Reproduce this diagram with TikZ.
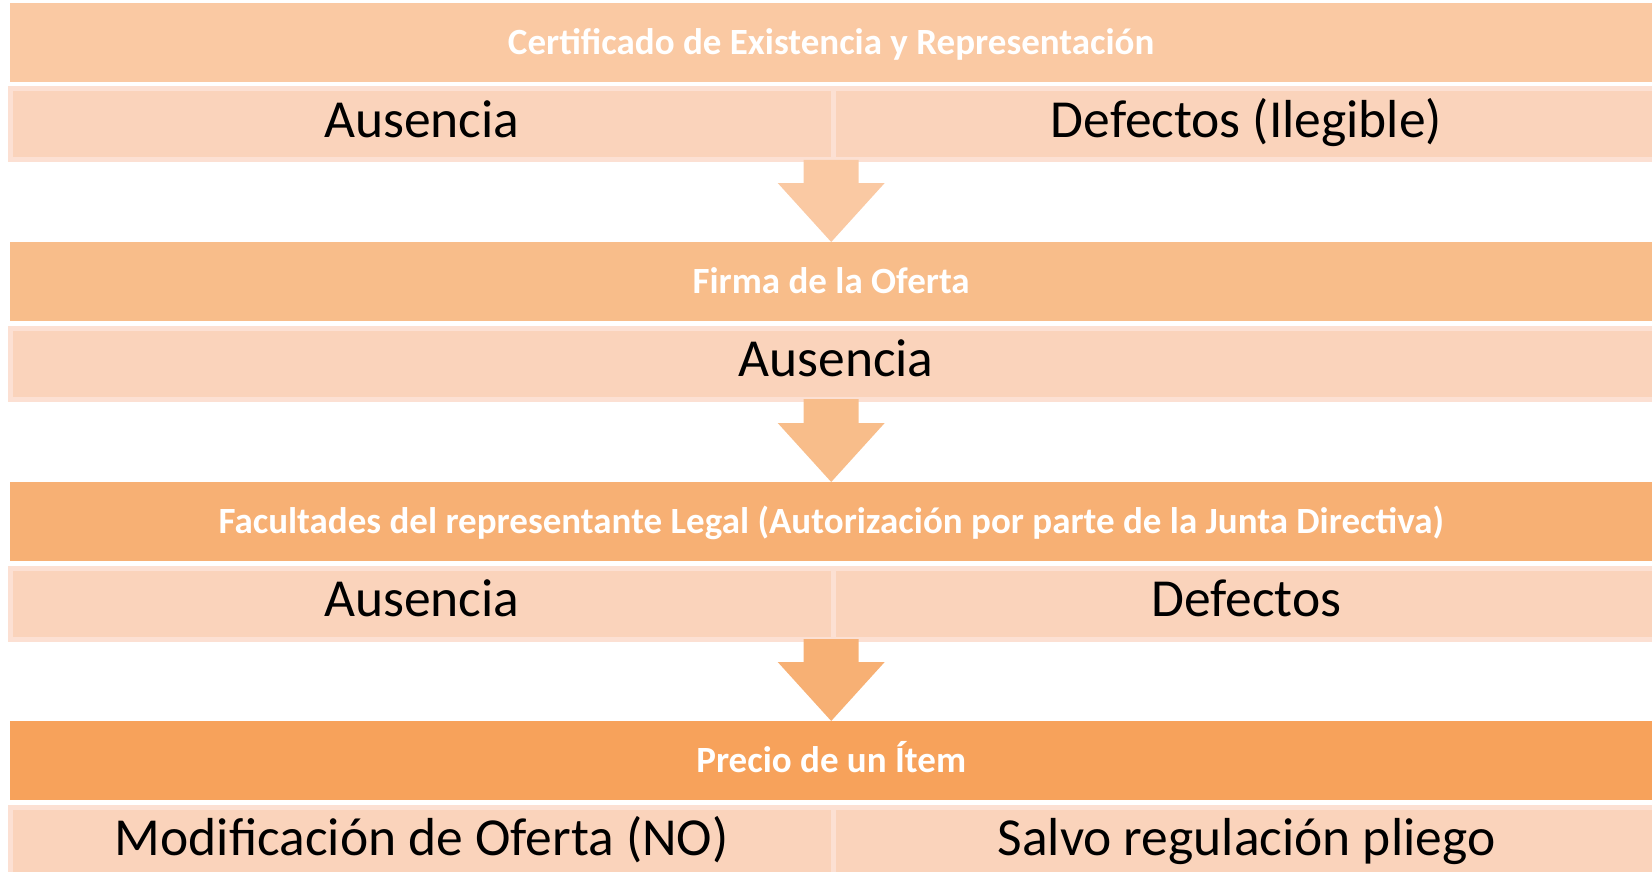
\documentclass[tikz,border=0pt]{standalone}
\usepackage{fontspec}
\setmainfont{Carlito}
\usetikzlibrary{calc}
\definecolor{headA}{RGB}{250,201,163}
\definecolor{headB}{RGB}{248,189,138}
\definecolor{headC}{RGB}{247,176,116}
\definecolor{headD}{RGB}{247,162,91}
\definecolor{subfill}{RGB}{250,211,187}
\definecolor{subline}{RGB}{252,224,211}
\tikzset{
	header/.style={rectangle, anchor=north west, minimum width=1642pt, minimum height=79pt, inner sep=0pt, text=white, text height=24pt, text depth=0pt, font=\fontsize{37}{40}\selectfont\bfseries},
	subbox/.style={rectangle, anchor=north west, fill=subfill, draw=subline, line width=5pt, minimum height=71pt, inner sep=0pt, text=black, text height=26pt, text depth=0pt, font=\fontsize{53.5}{58}\selectfont},
}
% flecha de bloque entre dos filas
\newcommand\flecha[3]{%
	\fill[#1] ($(#2)+(-27.5,-2.5)$) -- ($(#2)+(27.5,-2.5)$) -- ($(#3)+(27.5,-59)$) -- ($(#3)+(53.5,-59)$) -- (#3) -- ($(#3)+(-53.5,-59)$) -- ($(#3)+(-27.5,-59)$) -- cycle;}

\begin{document}
\begin{tikzpicture}[x=1pt, y=-1pt]
	\useasboundingbox (0,0) rectangle (1652,872);
	\node[header, fill=headA] (h1) at (10,3) {Cer\kern0pt tificado de Existencia y Representación};
	\node[subbox, minimum width=823.5pt] (s1a) at (7.5,86.5) {Ausencia};
	\node[subbox, minimum width=826pt] (s1b) at (831,86.5) {Defectos (Ilegible)};
	\node[header, fill=headB] (h2) at (10,242) {Firma de la Oferta};
	\node[subbox, minimum width=1652pt] (s2) at (7.5,325.5) {Ausencia};
	\node[header, fill=headC] (h3) at (10,482) {Facultades del representante Legal (Autorización por parte de la Junta Direc\kern0pt tiva)};
	\node[subbox, minimum width=823.5pt] (s3a) at (7.5,565.5) {Ausencia};
	\node[subbox, minimum width=826pt] (s3b) at (831,565.5) {Defectos};
	\node[header, fill=headD] (h4) at (10,721) {Precio de un Ítem};
	\node[subbox, minimum width=823.5pt] (s4a) at (7.5,804.5) {Modificación de Oferta (NO)};
	\node[subbox, minimum width=826pt] (s4b) at (831,804.5) {Salvo regulación pliego};
	\flecha{headA}{h1.south |- s1a.south}{h2.north}
	\flecha{headB}{h2.south |- s2.south}{h3.north}
	\flecha{headC}{h3.south |- s3a.south}{h4.north}
\end{tikzpicture}
\end{document}
